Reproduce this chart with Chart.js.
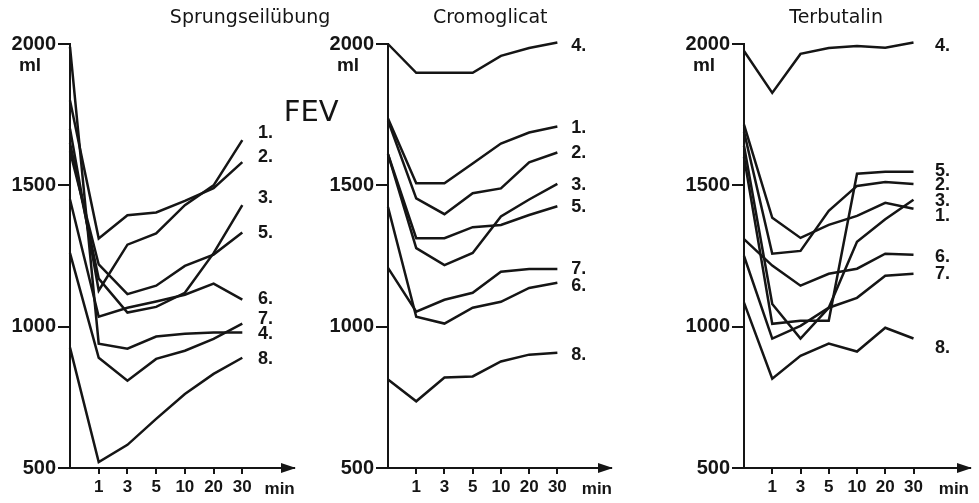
<!DOCTYPE html>
<html>
<head>
<meta charset="utf-8">
<style>
body { margin: 0; background: #fff; }
.wrap { position: relative; width: 979px; height: 503px; overflow: hidden; }
canvas { position: absolute; top: 0; }
</style>
</head>
<body>
<div class="wrap">
    <canvas id="c1" width="345" height="503" style="left:0px"></canvas>
    <canvas id="c2" width="320" height="503" style="left:320px"></canvas>
    <canvas id="c3" width="339" height="503" style="left:640px"></canvas>
</div>
<script src="https://cdn.jsdelivr.net/npm/chart.js@4.4.0/dist/chart.umd.min.js"></script>
<script>
// x positions: 0 = before, then 1, 3, 5, 10, 20, 30 min
var timeLabels = ['1', '3', '5', '10', '20', '30'];
var seriesNames = ['1.', '2.', '3.', '4.', '5.', '6.', '7.', '8.'];
var yTicks = [500, 1000, 1500, 2000];

// FEV in ml, series 1. to 8., one row per patient
var sprungseil = [
    [1700, 1128, 1290, 1330, 1430, 1500, 1660],
    [1800, 1312, 1394, 1404, 1445, 1490, 1582],
    [1650, 1170, 1050, 1070, 1120, 1260, 1430],
    [1990, 940, 922, 965, 975, 979, 979],
    [1620, 1220, 1115, 1145, 1215, 1255, 1333],
    [1450, 1035, 1067, 1089, 1113, 1152, 1096],
    [1260, 890, 809, 886, 915, 957, 1011],
    [926, 521, 582, 674, 762, 833, 890]
];
var cromoglicat = [
    [1736, 1507, 1507, 1577, 1648, 1687, 1708],
    [1729, 1454, 1398, 1472, 1489, 1581, 1616],
    [1610, 1278, 1218, 1261, 1390, 1450, 1505],
    [2000, 1898, 1898, 1898, 1958, 1986, 2005],
    [1610, 1313, 1313, 1352, 1360, 1395, 1426],
    [1423, 1035, 1011, 1067, 1088, 1137, 1155],
    [1208, 1053, 1095, 1120, 1194, 1204, 1204],
    [813, 736, 820, 824, 877, 901, 908]
];
var terbutalin = [
    [1715, 1385, 1314, 1360, 1392, 1438, 1417],
    [1690, 1258, 1268, 1410, 1498, 1512, 1505],
    [1640, 1080, 958, 1067, 1300, 1380, 1449],
    [1975, 1827, 1965, 1986, 1993, 1987, 2005],
    [1600, 1010, 1021, 1021, 1541, 1548, 1548],
    [1310, 1216, 1145, 1187, 1205, 1258, 1254],
    [1250, 958, 1003, 1067, 1102, 1180, 1187],
    [1085, 816, 897, 940, 912, 996, 958]
];

// where the "1." ... "8." tags sit (ml)
var sprungTagY = [1684, 1599, 1454, 975, 1333, 1099, 1028, 887];
var cromoTagY = [1704, 1616, 1500, 1993, 1423, 1144, 1204, 898];
var terbTagY = [1392, 1502, 1445, 1993, 1551, 1247, 1187, 926];

var ink = '#151515';
var fontName = '"DejaVu Sans", Verdana, sans-serif';
var boldName = '"Liberation Sans", Arial, sans-serif';

var panelDeco = {
    id: 'panelDeco',
    afterDraw: function(chart, args, opts) {
        var ctx = chart.ctx;
        var xs = chart.scales.x, ys = chart.scales.y, area = chart.chartArea;
        ctx.save();
        ctx.fillStyle = ink;
        // arrow head on the time axis
        var yb = area.bottom;
        ctx.beginPath();
        ctx.moveTo(area.right + 2, yb);
        ctx.lineTo(area.right - 13, yb - 5);
        ctx.lineTo(area.right - 13, yb + 5);
        ctx.closePath();
        ctx.fill();

        ctx.textAlign = 'center';
        ctx.textBaseline = 'middle';
        ctx.font = 'bold 17px ' + boldName;
        ctx.fillText('min', xs.getPixelForValue(opts.minAt), yb + 21);
        ctx.font = '19px ' + fontName;
        ctx.fillText(opts.title, xs.getPixelForValue(opts.titleAt), 18);
        ctx.font = 'bold 19px ' + boldName;
        ctx.fillText('ml', area.left - 40, ys.getPixelForValue(2000) + 22);

        ctx.textAlign = 'left';
        ctx.font = 'bold 18px ' + boldName;
        var tx = xs.getPixelForValue(opts.tagAt);
        opts.tagY.forEach(function(v, i) {
            ctx.fillText(seriesNames[i], tx, ys.getPixelForValue(v));
        });
        if (opts.fev) {
            ctx.textAlign = 'center';
            ctx.font = '29px ' + fontName;
            ctx.fillText('FEV', xs.getPixelForValue(8.4), ys.getPixelForValue(1756));
        }
        ctx.restore();
    }
};

function drawPanel(id, rows, cfg) {
    var datasets = rows.map(function(row, i) {
        return {
            label: seriesNames[i],
            data: row.map(function(v, k) { return { x: k, y: v }; }),
            borderColor: ink,
            borderWidth: 2.5,
            pointRadius: 0,
            tension: 0,
            fill: false,
            clip: false
        };
    });
    var ctx = document.getElementById(id).getContext('2d');
    return new Chart(ctx, {
        type: 'line',
        data: { datasets: datasets },
        plugins: [panelDeco],
        options: {
            responsive: false,
            animation: false,
            devicePixelRatio: 1,
            layout: { padding: { top: 44, right: cfg.padRight, left: 0, bottom: 0 } },
            plugins: {
                legend: { display: false },
                tooltip: { enabled: false },
                panelDeco: {
                    title: cfg.title,
                    titleAt: cfg.titleAt,
                    minAt: cfg.minAt,
                    tagAt: cfg.tagAt,
                    tagY: cfg.tagY,
                    fev: cfg.fev
                }
            },
            scales: {
                x: {
                    type: 'linear',
                    min: 0,
                    max: cfg.xMax,
                    afterFit: function(s) { s.height = 35; },
                    afterBuildTicks: function(s) {
                        s.ticks = timeLabels.map(function(t, i) { return { value: i + 1 }; });
                    },
                    grid: { display: true, drawOnChartArea: false, drawTicks: true, tickLength: 6, color: ink, lineWidth: 2 },
                    border: { display: true, color: ink, width: 2 },
                    ticks: {
                        autoSkip: false,
                        maxRotation: 0,
                        padding: 3,
                        color: ink,
                        font: { family: boldName, size: 17, weight: 'bold' },
                        callback: function(v) { return timeLabels[v - 1]; }
                    }
                },
                y: {
                    min: 500,
                    max: 2000,
                    afterFit: function(s) { s.width = cfg.yWidth; },
                    afterBuildTicks: function(s) {
                        s.ticks = yTicks.map(function(v) { return { value: v }; });
                    },
                    grid: { display: true, drawOnChartArea: false, drawTicks: true, tickLength: 12, color: ink, lineWidth: 2 },
                    border: { display: true, color: ink, width: 2 },
                    ticks: {
                        padding: 2,
                        color: ink,
                        font: { family: boldName, size: 20, weight: 'bold' },
                        callback: function(v) { return String(v); }
                    }
                }
            }
        }
    });
}

drawPanel('c1', sprungseil, {
    title: 'Sprungseilübung', titleAt: 6.27, minAt: 7.3, tagAt: 6.55, tagY: sprungTagY,
    xMax: 7.8, yWidth: 70, padRight: 51, fev: true
});
drawPanel('c2', cromoglicat, {
    title: 'Cromoglicat', titleAt: 3.62, minAt: 7.4, tagAt: 6.49, tagY: cromoTagY,
    xMax: 7.9, yWidth: 68, padRight: 29, fev: false
});
drawPanel('c3', terbutalin, {
    title: 'Terbutalin', titleAt: 3.26, minAt: 7.43, tagAt: 6.76, tagY: terbTagY,
    xMax: 8.0, yWidth: 104, padRight: 9, fev: false
});
</script>
</body>
</html>
